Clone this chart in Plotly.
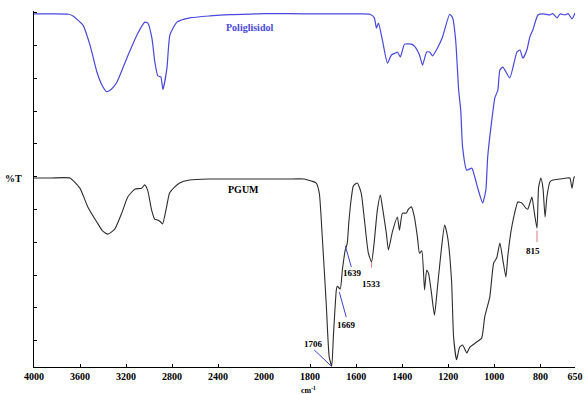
import plotly.graph_objects as go

# ---------------- data ----------------
poli_wn = [4000, 3850, 3700, 3661, 3620, 3574, 3513, 3453, 3410, 3370, 3330, 3279, 3192, 3105,
           3036, 3010, 2975, 2949, 2923, 2897, 2879, 2844, 2818, 2757, 2645, 2471, 2297, 2000,
           1900, 1750, 1600, 1540, 1521, 1512, 1503, 1486, 1464, 1447, 1429, 1421, 1408, 1390,
           1360, 1347, 1325, 1312, 1294, 1281, 1268, 1247, 1225, 1194, 1181, 1168, 1155, 1146,
           1138, 1120, 1098, 1085, 1072, 1051, 1037, 1029, 1011, 998, 985, 976, 963, 933, 902,
           889, 876, 859, 846, 833, 811, 789, 759, 746, 728, 715, 693, 680, 663, 650]
poli_t = [99.6, 99.6, 99.5, 99.0, 97.8, 96.2, 90.1, 81.9, 78.0, 75.9, 76.6, 78.8, 86.2, 93.2,
          97.1, 96.8, 92.3, 84.9, 80.7, 80.4, 76.6, 83.1, 93.2, 97.1, 98.4, 99.0, 99.4, 99.7,
          99.7, 99.6, 99.6, 99.5, 98.4, 95.3, 96.8, 91.6, 84.6, 87.1, 87.7, 88.0, 86.5, 90.4,
          90.4, 89.8, 87.1, 84.0, 88.0, 88.0, 86.8, 89.2, 92.6, 99.5, 98.4, 91.6, 76.4, 70.3,
          59.0, 52.0, 52.6, 49.9, 46.5, 42.0, 45.9, 56.0, 67.3, 74.0, 76.4, 82.5, 83.4, 80.1, 88.0,
          88.6, 86.1, 88.6, 92.6, 94.7, 99.3, 99.6, 99.3, 99.7, 98.4, 99.6, 99.3, 99.7, 98.1, 99.9]

pgum_wn = [4000, 3850, 3688, 3601, 3532, 3454, 3402, 3358, 3298, 3237, 3185, 3124, 3064, 3038,
           3012, 2977, 2951, 2925, 2899, 2882, 2847, 2821, 2778, 2734, 2647, 2474, 2153, 2000,
           1900, 1826, 1795, 1774, 1760, 1747, 1730, 1717, 1706, 1699, 1686, 1682, 1669, 1660,
           1647, 1639, 1632, 1622, 1612, 1595, 1578, 1564, 1547, 1533, 1522, 1508, 1495, 1486,
           1469, 1460, 1443, 1421, 1412, 1399, 1382, 1373, 1360, 1347, 1334, 1325, 1315, 1303,
           1294, 1286, 1273, 1260, 1247, 1229, 1216, 1203, 1186, 1177, 1164, 1151, 1138, 1120,
           1107, 1094, 1077, 1055, 1042, 1020, 1003, 990, 976, 963, 950, 942, 929, 916, 898, 881,
           863, 855, 837, 828, 815, 808, 798, 789, 780, 772, 759, 746, 715, 685, 672, 663, 654, 650]
pgum_t = [49.6, 49.6, 49.6, 46.5, 40.8, 36.2, 33.4, 32.5, 34.0, 38.9, 43.8, 46.2, 46.5, 47.5,
          45.9, 39.8, 37.1, 36.8, 36.2, 35.6, 40.8, 45.0, 46.8, 48.1, 49.0, 49.3, 49.3, 49.3,
          49.3, 49.3, 48.7, 48.1, 45.0, 31.6, 11.5, -4.9, -7.7, 1.1, 15.5, 16.6, 15.8, 21.5,
          27.8, 29.5, 35.9, 42.9, 47.2, 48.1, 45.0, 36.8, 26.7, 24.0, 29.8, 39.8, 44.4, 40.8,
          32.8, 27.7, 33.1, 37.7, 33.7, 38.9, 38.9, 40.1, 40.8, 37.7, 31.6, 26.7, 27.4, 15.5,
          21.5, 20.6, 14.5, 7.8, 16.4, 28.6, 35.3, 31.6, 18.5, 1.1, -5.8, -2.0, -1.3, -3.7,
          -2.0, -1.3, -0.4, 0.8, 7.2, 13.3, 23.7, 25.2, 29.8, 24.6, 19.4, 25.5, 32.8, 37.7, 42.3, 42.0,
          40.4, 40.1, 43.8, 39.8, 34.3, 46.8, 49.6, 46.5, 37.7, 43.8, 48.4, 49.0, 49.3, 49.6, 49.6, 46.5, 49.9, 50.0]

ticks_hi = [4000, 3600, 3200, 2800, 2400, 2000]
ticks_lo = [1800, 1600, 1400, 1200, 1000, 800, 650]
y_ticks = [0, 10, 20, 30, 40, 50, 60, 70, 80, 90, 100]

peak_labels = ["1706", "1669", "1639", "1533", "815"]
# (label x, label y) positions and (x0, y0, x1, y1) pointer lines, in data units
label_pos = [(1787, -1.0), (1643, 4.8), (1617, 20.6), (1534, 17.3), (833, 27.3)]
pointer_lines = [(1782, -2.8, 1707, -7.8), (1673, 14.8, 1643, 7.2), (1647, 28.9, 1621, 22.5),
                 (1533, 24.0, 1533, 22.3), (815, 33.6, 815, 30.1)]
pointer_colors = ["#4040d0", "#4040d0", "#4040d0", "#e07a7a", "#e07a7a"]

BLUE = "rgb(72,72,222)"
DARK = "rgb(45,45,45)"
SERIF = "Liberation Serif"

# ---------------- figure ----------------
def split(wn, t):
    hi = [(w, v) for w, v in zip(wn, t) if w >= 2000]
    lo = [(w, v) for w, v in zip(wn, t) if w <= 2000]
    return ([a for a, _ in hi], [b for _, b in hi]), ([a for a, _ in lo], [b for _, b in lo])

fig = go.Figure()
for wn, t, col, w in [(poli_wn, poli_t, BLUE, 1.2), (pgum_wn, pgum_t, DARK, 1.1)]:
    (hx, hy), (lx, ly) = split(wn, t)
    fig.add_trace(go.Scatter(x=hx, y=hy, mode="lines", xaxis="x", yaxis="y",
                             line=dict(color=col, width=w, shape="spline", smoothing=0.5),
                             showlegend=False, hoverinfo="skip"))
    fig.add_trace(go.Scatter(x=lx, y=ly, mode="lines", xaxis="x2", yaxis="y",
                             line=dict(color=col, width=w, shape="spline", smoothing=0.5),
                             showlegend=False, hoverinfo="skip"))

split_frac = 230 / 541
tickfont = dict(family=SERIF, size=10, color="black", weight="bold")
common_x = dict(showgrid=False, zeroline=False, showline=True, linecolor="black", linewidth=1,
                ticks="inside", ticklen=3, tickcolor="black", tickfont=tickfont, anchor="y",
                automargin=False)

fig.update_layout(
    width=584, height=394,
    margin=dict(l=34, r=9, t=11, b=27, autoexpand=False),
    paper_bgcolor="white", plot_bgcolor="white",
    xaxis=dict(domain=[0, split_frac], range=[4000, 2000], tickvals=ticks_hi,
               ticktext=[str(v) for v in ticks_hi], **common_x),
    xaxis2=dict(domain=[split_frac, 1], range=[2000, 650], tickvals=ticks_lo,
                ticktext=[str(v) for v in ticks_lo], **common_x),
    yaxis=dict(range=[-8, 100.5], tickvals=y_ticks, showticklabels=False, showgrid=False,
               zeroline=False, showline=True, linecolor="black", linewidth=1,
               ticks="inside", ticklen=3, tickcolor="black", anchor="x", automargin=False),
)

for (x0, y0, x1, y1), c in zip(pointer_lines, pointer_colors):
    fig.add_shape(type="line", xref="x2", yref="y", x0=x0, y0=y0, x1=x1, y1=y1,
                  line=dict(color=c, width=1))

ann = []
for txt, (x, y) in zip(peak_labels, label_pos):
    ann.append(dict(xref="x2", yref="y", x=x, y=y, text=f"<b>{txt}</b>", showarrow=False,
                    font=dict(family=SERIF, size=9, color="black")))
ann += [
    dict(xref="x", yref="y", x=2127, y=95.6, text="<b>Poliglisidol</b>", showarrow=False,
         font=dict(family=SERIF, size=10, color=BLUE)),
    dict(xref="x", yref="y", x=2180, y=46.2, text="<b>PGUM</b>", showarrow=False,
         font=dict(family=SERIF, size=10, color="black")),
    dict(xref="paper", yref="y", x=-0.019, y=49.6, xanchor="right", text="<b>%T</b>",
         showarrow=False, font=dict(family=SERIF, size=10, color="black")),
    dict(xref="paper", yref="paper", x=0.508, y=-0.064, text="<b>cm<sup>-1</sup></b>",
         showarrow=False, yanchor="middle", borderpad=0,
         font=dict(family=SERIF, size=8, color="black")),
]
fig.update_layout(annotations=ann)

fig.write_html("out.html")
